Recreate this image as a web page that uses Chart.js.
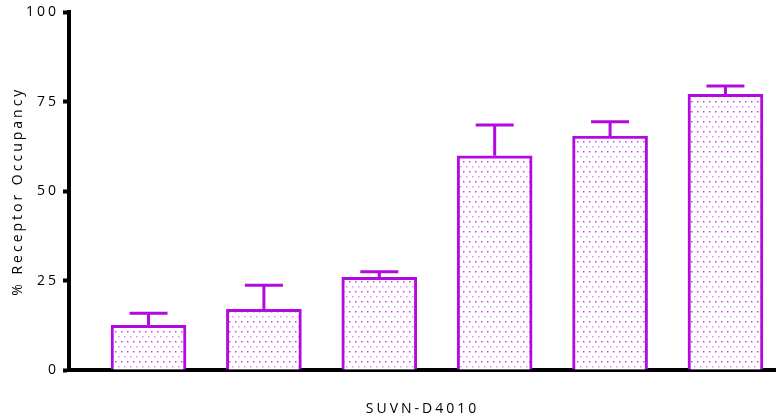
<!DOCTYPE html>
<html>
<head>
<meta charset="utf-8">
<script src="https://cdn.jsdelivr.net/npm/chart.js@4"></script>
<style>
  html, body { margin: 0; padding: 0; background: #ffffff; }
  #wrap { width: 776px; height: 420px; }
</style>
</head>
<body>
<div id="wrap"><canvas id="roChart"></canvas></div>
<script>
const doses = [0, 1, 2, 3, 4, 5];
const occupancy = [12.5, 17.0, 25.9, 59.9, 65.4, 77.1];
const errorUp = [3.4, 6.7, 1.6, 8.6, 4.0, 2.3];
const yTicks = [0, 25, 50, 75, 100];

const purple = '#b20ae0';

function dotPattern() {
    const c = document.createElement('canvas');
    c.width = 6;
    c.height = 10;
    const g = c.getContext('2d');
    g.fillStyle = '#ffffff';
    g.fillRect(0, 0, 6, 10);
    g.fillStyle = 'rgba(190, 40, 230, 0.9)';
    g.fillRect(1, 1, 1.5, 1.5);
    g.fillStyle = 'rgba(200, 90, 235, 0.65)';
    g.fillRect(4, 6, 1.5, 1.5);
    return document.getElementById('roChart').getContext('2d').createPattern(c, 'repeat');
}

// wider letter spacing like the original figure text
const spacingPlugin = {
    id: 'spacing',
    beforeInit(chart) { chart.ctx.letterSpacing = '3px'; },
    beforeDraw(chart) { chart.ctx.letterSpacing = '3px'; }
};

// upper-only error bars with a cap
const errorBars = {
    id: 'errorBars',
    afterDatasetsDraw(chart) {
        const ctx = chart.ctx;
        const xs = chart.scales.x;
        const ys = chart.scales.y;
        ctx.save();
        ctx.strokeStyle = purple;
        ctx.lineWidth = 3;
        doses.forEach(function (d, i) {
            const x = xs.getPixelForValue(d);
            const y0 = ys.getPixelForValue(occupancy[i]);
            const y1 = ys.getPixelForValue(occupancy[i] + errorUp[i]);
            ctx.beginPath();
            ctx.moveTo(x, y0);
            ctx.lineTo(x, y1);
            ctx.moveTo(x - 19, y1);
            ctx.lineTo(x + 19, y1);
            ctx.stroke();
        });
        ctx.restore();
    }
};

const ctx = document.getElementById('roChart');
new Chart(ctx, {
    type: 'bar',
    data: {
        datasets: [{
            data: doses.map(function (d, i) { return { x: d, y: occupancy[i] }; }),
            backgroundColor: dotPattern(),
            borderColor: purple,
            borderWidth: 3,
            borderSkipped: 'bottom',
            barThickness: 75
        }]
    },
    options: {
        responsive: true,
        maintainAspectRatio: false,
        animation: false,
        layout: { padding: { top: 11, right: 0, left: 0, bottom: 0 } },
        plugins: {
            legend: { display: false },
            tooltip: { enabled: false }
        },
        scales: {
            x: {
                type: 'linear',
                offset: false,
                min: -0.689,
                max: 5.438,
                grid: { display: false },
                border: { color: '#000000', width: 4 },
                ticks: { display: false },
                title: {
                    display: true,
                    text: 'SUVN-D4010',
                    color: '#000000',
                    font: { family: 'Open Sans', size: 14 },
                    padding: { top: 0, bottom: 3 }
                },
                afterFit(scale) { scale.height = 50; }
            },
            y: {
                min: 0,
                max: 100,
                afterBuildTicks(scale) {
                    scale.ticks = yTicks.map(function (v) { return { value: v }; });
                },
                grid: {
                    drawOnChartArea: false,
                    tickLength: 6,
                    tickWidth: 4,
                    tickColor: '#000000'
                },
                border: { color: '#000000', width: 4 },
                ticks: {
                    color: '#000000',
                    padding: 4,
                    font: { family: 'Open Sans', size: 14 }
                },
                title: {
                    display: true,
                    text: '% Receptor Occupancy',
                    color: '#000000',
                    font: { family: 'Open Sans', size: 14 },
                    padding: { top: 10, bottom: 6 }
                },
                afterFit(scale) { scale.width = 69; }
            }
        }
    },
    plugins: [spacingPlugin, errorBars]
});
</script>
</body>
</html>
